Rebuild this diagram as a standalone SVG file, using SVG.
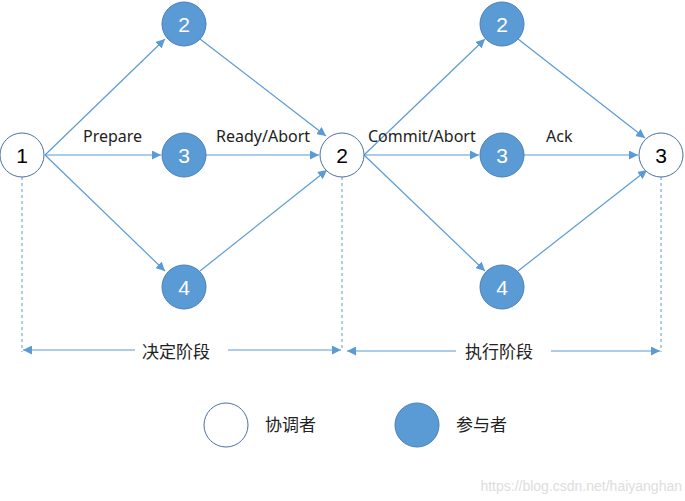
<svg xmlns="http://www.w3.org/2000/svg" width="685" height="501" viewBox="0 0 685 501">
<style>
.co{fill:#fff;stroke:#4a6fa5;stroke-width:1}
.pa{fill:#5b9bd5;stroke:#4a7fb5;stroke-width:1}
.e{stroke:#5b9bd5;stroke-width:1.2;fill:none;marker-end:url(#a)}
.d{stroke:#5b9bd5;stroke-width:1;stroke-dasharray:3,3;fill:none}
.n{font-family:"Liberation Sans","Noto Sans",sans-serif;font-size:21px;text-anchor:middle}
.l{font-family:"Noto Sans","Liberation Sans",sans-serif;font-size:16px;fill:#222}
.c{font-family:"Noto Sans CJK SC",sans-serif;font-size:17px;fill:#222}
</style>
<defs>
<marker id="a" viewBox="0 0 10 10" refX="10" refY="5" markerWidth="9" markerHeight="9" markerUnits="userSpaceOnUse" orient="auto"><path d="M0,0L10,5L0,10z" fill="#5b9bd5"/></marker>
<marker id="s" viewBox="0 0 10 10" refX="0" refY="5" markerWidth="9" markerHeight="9" markerUnits="userSpaceOnUse" orient="auto"><path d="M10,0L0,5L10,10z" fill="#5b9bd5"/></marker>
</defs>
<rect width="685" height="501" fill="#fff"/>
<g id="connectors">
<path class="e" d="M45,155L165,39"/>
<path class="e" d="M45,155L161,155"/>
<path class="e" d="M45,155L165,271"/>
<path class="e" d="M200,39L326,136"/>
<path class="e" d="M206,155L319,155"/>
<path class="e" d="M200,271L327,170"/>
<path class="e" d="M364,155L485,39"/>
<path class="e" d="M364,155L479,155"/>
<path class="e" d="M364,155L485,271"/>
<path class="e" d="M518,39L645,138"/>
<path class="e" d="M524,155L638,155"/>
<path class="e" d="M518,271L647,170"/>
<path class="d" d="M22,177V352M342,177V350M661,177V352"/>
<path class="e" style="marker-start:url(#s);marker-end:none" d="M23,350H135"/>
<path class="e" d="M228,350H341"/>
<path class="e" style="marker-start:url(#s);marker-end:none" d="M347,351H456"/>
<path class="e" d="M551,351H660"/>
</g>
<g id="c1"><circle class="co" cx="22" cy="155" r="22"/><text class="n" x="22" y="163">1</text></g>
<g id="p2a"><circle class="pa" cx="184" cy="24" r="22"/><text class="n" x="184" y="32" fill="#fff">2</text></g>
<g id="p3a"><circle class="pa" cx="184" cy="155" r="22"/><text class="n" x="184" y="163" fill="#fff">3</text></g>
<g id="p4a"><circle class="pa" cx="184" cy="287" r="22"/><text class="n" x="184" y="295" fill="#fff">4</text></g>
<g id="c2"><circle class="co" cx="342" cy="155" r="22"/><text class="n" x="342" y="163">2</text></g>
<g id="p2b"><circle class="pa" cx="502" cy="24" r="22"/><text class="n" x="502" y="32" fill="#fff">2</text></g>
<g id="p3b"><circle class="pa" cx="502" cy="155" r="22"/><text class="n" x="502" y="163" fill="#fff">3</text></g>
<g id="p4b"><circle class="pa" cx="502" cy="287" r="22"/><text class="n" x="502" y="295" fill="#fff">4</text></g>
<g id="c3"><circle class="co" cx="661" cy="155" r="22"/><text class="n" x="661" y="163">3</text></g>
<g id="labels">
<text class="l" x="83" y="142">Prepare</text>
<text class="l" x="216" y="142">Ready/Abort</text>
<text class="l" x="368" y="142">Commit/Abort</text>
<text class="l" x="546" y="142">Ack</text>
<text class="c" x="142" y="358">决定阶段</text>
<text class="c" x="465" y="358">执行阶段</text>
</g>
<g id="legend">
<ellipse class="co" cx="226" cy="425" rx="22" ry="22"/>
<text class="c" x="265" y="431">协调者</text>
<ellipse class="pa" cx="417" cy="425" rx="22" ry="22"/>
<text class="c" x="456" y="431">参与者</text>
</g>
<text x="682" y="491" text-anchor="end" font-family="Liberation Sans,sans-serif" font-size="14" fill="#ddd">https://blog.csdn.net/haiyanghan</text>
</svg>
